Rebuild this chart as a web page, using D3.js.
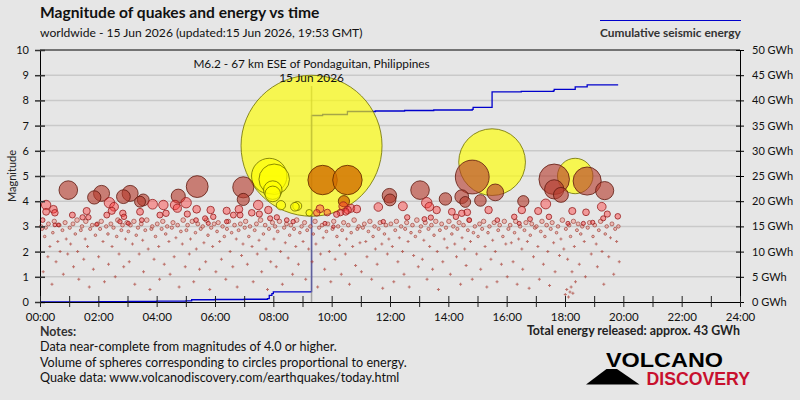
<!DOCTYPE html>
<html><head><meta charset="utf-8">
<script src="https://cdn.jsdelivr.net/npm/d3@7"></script>
<style>
body{margin:0;background:#e6e6e6;}
svg{display:block;font-family:Lato,"Open Sans",sans-serif;}
</style>
</head><body>
<svg id="chart" width="800" height="400"></svg>
<script>
// ---------- DATA ----------
const hourTicks = [0,1,2,3,4,5,6,7,8,9,10,11,12,13,14,15,16,17,18,19,20,21,22,23,24];
const hourLabels = ["00:00","02:00","04:00","06:00","08:00","10:00","12:00","14:00","16:00","18:00","20:00","22:00","24:00"];
const magTicks = [0,1,2,3,4,5,6,7,8,9,10];
const energyTicks = [0,5,10,15,20,25,30,35,40,45,50];
const energyLabels = ["0 GWh","5 GWh","10 GWh","15 GWh","20 GWh","25 GWh","30 GWh","35 GWh","40 GWh","45 GWh","50 GWh"];

// cumulative energy [hour, GWh]
const energySteps = [[0,0],[1,0.03],[2,0.07],[3,0.12],[4,0.18],[5,0.22],[5.2,0.45],[6,0.5],[7,0.55],[7.8,0.65],[7.86,1.3],[7.95,1.65],[8.0,2.0],[9.3,2.05],[9.31,37.0],[9.69,37.2],[10.54,37.8],[11.5,37.9],[12.5,38.0],[13.5,38.1],[14.82,38.2],[14.85,38.6],[15.5,41.7],[16.5,41.8],[17.6,41.9],[17.63,42.2],[18.35,42.7],[18.76,43.1],[19.8,43.2]];

// quakes [hour, magnitude]
const yellowQuakes = [[9.31,6.2],[15.5,5.55],[18.35,5.0],[7.86,5.0],[8.03,4.87],[7.98,4.44],[7.98,4.29],[8.26,3.84],[8.74,3.78],[8.82,3.81],[9.23,3.54]];
const orangeQuakes = [[9.69,4.84],[10.54,4.84],[10.42,4.0]];
const brownQuakes = [[0.97,4.44],[1.86,4.15],[2.11,4.31],[2.86,4.18],[3.09,4.31],[3.54,4.05],[3.43,3.98],[4.74,4.2],[5.39,4.58],[6.97,4.55],[6.97,4.07],[11.98,4.22],[12.0,4.05],[13.03,4.44],[13.9,4.09],[14.46,4.18],[14.58,3.97],[14.82,4.96],[15.1,4.03],[15.61,4.35],[16.57,4.0],[17.63,4.87],[17.63,4.47],[17.86,4.25],[18.76,4.8],[19.36,4.42]];
const redQuakes = [[0.21,3.85],[0.21,3.58],[0.46,3.68],[0.51,3.54],[0.09,3.25],[0.63,3.06],[0.51,3.06],[1.11,3.45],[1.6,3.61],[1.46,3.36],[1.66,3.36],[1.94,3.08],[2.29,3.45],[2.38,3.94],[2.46,3.62],[2.54,3.78],[2.84,3.52],[2.88,3.38],[2.74,3.19],[3.03,3.12],[3.43,3.58],[3.49,3.25],[3.86,3.88],[4.23,3.85],[4.32,3.52],[4.11,3.45],[4.63,3.85],[4.71,3.72],[5.01,3.94],[5.05,3.49],[5.37,3.68],[5.35,3.25],[5.66,3.32],[5.85,3.65],[5.94,3.38],[5.77,3.12],[6.4,3.62],[6.63,3.45],[6.82,3.68],[6.86,3.45],[6.4,3.19],[7.26,3.54],[7.48,3.85],[7.52,3.49],[7.83,3.65],[8.12,3.36],[7.89,3.32],[8.46,3.25],[8.68,3.19],[9.49,3.54],[9.6,3.7],[9.85,3.55],[9.77,3.12],[10.06,2.99],[10.17,3.48],[10.3,3.55],[10.4,3.8],[10.55,3.65],[10.48,3.58],[10.65,3.72],[10.86,3.69],[11.6,3.77],[11.77,3.19],[12.44,3.8],[12.59,3.36],[13.26,3.94],[13.35,3.78],[13.6,3.65],[13.18,3.29],[13.4,3.35],[14.12,3.58],[14.26,3.38],[14.46,3.52],[14.65,3.56],[14.72,3.25],[15.38,3.65],[15.68,3.25],[16.26,3.38],[16.43,3.12],[16.52,3.65],[16.8,3.29],[17.08,3.61],[17.34,3.89],[17.45,3.38],[18.25,3.61],[18.72,3.56],[19.26,3.78],[19.45,3.49],[19.31,3.32],[19.81,3.4],[18.1,3.12],[18.63,3.12],[18.95,3.16]];
const smallQuakes = [
[0.04,3.0],[0.07,2.9],[0.11,1.2],[0.16,2.6],[0.2,2.95],[0.27,1.8],[0.29,3.1],[0.34,2.2],[0.41,0.7],[0.44,2.75],[0.49,3.2],[0.55,1.6],[0.61,2.4],[0.66,3.05],[0.69,2.0],[0.77,2.85],[0.8,1.1],[0.86,3.15],[0.9,2.5],[0.95,1.9],
[1.02,2.95],[1.05,2.3],[1.13,3.1],[1.15,1.4],[1.21,2.7],[1.27,3.25],[1.29,2.0],[1.33,0.9],[1.4,2.85],[1.44,3.0],[1.5,1.7],[1.55,2.5],[1.57,3.2],[1.63,2.2],[1.69,0.6],[1.72,2.9],[1.79,3.05],[1.83,1.3],[1.9,2.65],[1.97,3.1],
[2.01,1.8],[2.06,2.9],[2.1,3.2],[2.16,2.4],[2.21,0.8],[2.27,3.0],[2.33,2.7],[2.35,1.5],[2.43,3.1],[2.47,2.2],[2.52,2.95],[2.58,1.0],[2.63,2.6],[2.67,3.25],[2.71,1.9],[2.79,2.85],[2.83,3.05],[2.87,1.4],[2.93,2.5],[2.98,3.15],
[3.03,2.8],[3.06,1.6],[3.1,3.05],[3.17,2.3],[3.22,3.2],[3.25,0.7],[3.3,2.65],[3.36,2.95],[3.4,1.9],[3.47,3.1],[3.52,2.45],[3.55,1.2],[3.61,2.85],[3.66,3.25],[3.71,2.1],[3.77,0.5],[3.82,2.9],[3.85,3.0],[3.91,1.7],[3.96,2.6],
[4.02,3.1],[4.07,2.2],[4.1,0.9],[4.17,2.9],[4.21,3.2],[4.26,1.5],[4.31,2.7],[4.36,3.0],[4.42,2.4],[4.46,1.1],[4.52,2.95],[4.56,3.15],[4.6,1.8],[4.66,2.55],[4.72,3.05],[4.77,0.6],[4.83,2.8],[4.88,2.3],[4.91,3.25],[4.98,1.4],
[5.02,2.85],[5.06,3.05],[5.12,1.9],[5.16,2.5],[5.22,3.2],[5.27,0.8],[5.33,2.75],[5.36,2.1],[5.41,3.1],[5.47,1.3],[5.51,2.9],[5.58,3.0],[5.62,2.35],[5.68,1.6],[5.71,3.25],[5.76,2.65],[5.82,0.5],[5.87,2.95],[5.92,2.2],[5.97,3.1],
[6.03,1.2],[6.07,2.8],[6.11,3.15],[6.16,2.4],[6.22,1.7],[6.26,3.0],[6.32,2.6],[6.37,0.9],[6.41,2.9],[6.46,3.2],[6.52,2.0],[6.57,2.75],[6.61,1.4],[6.67,3.05],[6.73,2.5],[6.76,0.6],[6.81,2.85],[6.87,3.1],[6.91,1.85],[6.96,2.3],
[7.02,2.95],[7.05,3.2],[7.11,1.5],[7.16,2.6],[7.2,3.0],[7.27,2.2],[7.31,0.8],[7.36,2.85],[7.42,3.1],[7.45,1.9],[7.51,2.45],[7.56,3.25],[7.6,1.2],[7.66,2.7],[7.72,3.05],[7.75,2.1],[7.8,0.5],[7.85,2.9],[7.91,1.6],[7.97,3.15],
[8.02,2.5],[8.06,3.0],[8.1,1.4],[8.15,2.8],[8.21,3.2],[8.25,2.0],[8.31,0.7],[8.37,2.95],[8.41,2.35],[8.45,3.1],[8.51,1.75],[8.56,2.65],[8.6,3.05],[8.66,1.1],[8.71,2.9],[8.77,2.2],[8.8,3.25],[8.86,1.5],[8.91,2.75],[8.97,3.0],
[9.02,2.4],[9.07,3.15],[9.11,0.9],[9.16,2.85],[9.21,2.1],[9.27,3.0],[9.33,1.6],[9.37,2.7],[9.43,3.2],[9.46,2.3],[9.52,0.6],[9.57,2.95],[9.62,1.9],[9.67,3.05],[9.71,2.55],[9.76,1.3],[9.82,2.8],[9.87,3.1],[9.92,2.0],[9.97,0.8],
[10.03,2.9],[10.07,3.2],[10.12,1.7],[10.18,2.6],[10.22,3.0],[10.27,2.25],[10.33,1.1],[10.36,2.85],[10.41,3.15],[10.47,1.9],[10.51,2.5],[10.57,3.05],[10.61,0.7],[10.67,2.75],[10.72,2.2],[10.77,3.25],[10.82,1.45],[10.88,2.9],[10.93,3.0],[10.97,2.35],
[11.02,1.2],[11.07,2.95],[11.12,3.1],[11.17,2.4],[11.21,1.8],[11.26,2.8],[11.31,3.2],[11.37,0.9],[11.42,2.6],[11.47,3.0],[11.5,2.1],[11.56,1.5],[11.61,2.9],[11.66,3.15],[11.72,2.3],[11.75,0.55],[11.81,2.7],[11.86,3.05],[11.91,1.9],[11.96,2.5],
[12.03,3.1],[12.08,2.2],[12.13,0.8],[12.18,2.85],[12.22,3.2],[12.27,1.6],[12.32,2.55],[12.38,3.0],[12.43,2.0],[12.48,1.1],[12.52,2.9],[12.57,3.15],[12.62,2.4],[12.66,0.6],[12.72,2.75],[12.77,3.05],[12.81,1.85],[12.87,2.6],[12.92,3.25],[12.97,1.4],
[13.02,2.8],[13.06,3.0],[13.11,1.7],[13.16,2.45],[13.21,3.15],[13.27,0.9],[13.32,2.9],[13.36,2.2],[13.42,3.05],[13.46,1.3],[13.51,2.65],[13.57,3.2],[13.62,2.0],[13.66,0.5],[13.71,2.85],[13.77,3.1],[13.81,1.6],[13.86,2.5],[13.92,2.95],[13.96,2.15],
[14.02,3.2],[14.07,1.1],[14.12,2.7],[14.17,3.0],[14.22,2.3],[14.28,1.8],[14.31,2.9],[14.37,3.15],[14.42,0.7],[14.47,2.55],[14.52,3.05],[14.56,2.1],[14.61,1.45],[14.67,2.85],[14.71,3.25],[14.76,2.4],[14.82,0.9],[14.86,2.75],[14.91,3.0],[14.97,1.9],
[15.02,2.6],[15.07,3.1],[15.11,1.3],[15.16,2.9],[15.21,3.2],[15.26,2.2],[15.32,0.6],[15.36,2.75],[15.41,3.0],[15.46,1.7],[15.52,2.45],[15.57,3.15],[15.61,2.0],[15.67,0.8],[15.71,2.85],[15.76,3.05],[15.82,1.5],[15.87,2.6],[15.92,3.2],[15.97,2.3],
[16.02,1.0],[16.06,2.9],[16.12,3.05],[16.16,2.35],[16.22,1.6],[16.27,2.75],[16.31,3.2],[16.36,0.7],[16.41,2.5],[16.46,3.0],[16.52,2.1],[16.55,1.3],[16.61,2.85],[16.66,3.15],[16.71,2.4],[16.77,0.55],[16.81,2.65],[16.86,3.1],[16.92,1.8],[16.97,2.95],
[17.02,3.0],[17.07,2.2],[17.12,0.9],[17.17,2.8],[17.21,3.2],[17.26,1.5],[17.31,2.6],[17.37,3.05],[17.41,2.0],[17.47,0.65],[17.51,2.9],[17.56,3.15],[17.61,2.35],[17.66,1.2],[17.71,2.75],[17.76,3.0],[17.81,1.85],[17.86,2.5],[17.91,3.25],[17.96,2.1],
[18.01,0.3],[18.03,2.9],[18.06,0.5],[18.09,1.7],[18.12,0.2],[18.14,3.05],[18.17,0.4],[18.19,2.6],[18.21,0.6],[18.24,1.2],[18.27,0.35],[18.29,3.2],[18.32,2.2],[18.36,0.8],[18.41,2.85],[18.45,3.1],[18.49,1.5],[18.54,2.7],[18.59,3.0],[18.66,2.4],[18.7,1.0],[18.78,2.95],[18.84,3.15],[18.9,1.9],[18.96,2.6],
[19.02,3.05],[19.07,2.3],[19.11,1.4],[19.16,2.85],[19.22,3.2],[19.27,2.0],[19.33,0.7],[19.38,2.7],[19.43,3.0],[19.5,1.8],[19.56,2.55],[19.61,3.1],[19.67,1.1],[19.72,2.9],[19.77,2.4],[19.83,3.0],[19.86,1.6]
];
const annotationLines = ["M6.2 - 67 km ESE of Pondaguitan, Philippines","15 Jun 2026"];
const annotationHour = 9.31;
const titleText = "Magnitude of quakes and energy vs time";
const subtitleText = "worldwide - 15 Jun 2026 (updated:15 Jun 2026, 19:53 GMT)";
const legendText = "Cumulative seismic energy";
const notesLines = ["Data near-complete from magnitudes of 4.0 or higher.","Volume of spheres corresponding to circles proportional to energy.","Quake data: www.volcanodiscovery.com/earthquakes/today.html"];
const totalText = "Total energy released: approx. 43 GWh";

// ---------- DRAW ----------
const svg = d3.select("#chart");
const L = 40, R = 740, T = 50, B = 302;
const x = d3.scaleLinear().domain([0,24]).range([L,R]);
const y = d3.scaleLinear().domain([0,10]).range([B,T]);
const yE = d3.scaleLinear().domain([0,50]).range([B,T]);
// sphere volume ~ energy  => radius ~ 10^(0.5 M)
const rad = m => 70.5 * Math.pow(10, 0.5*(m-6.2));

svg.append("rect").attr("width",800).attr("height",400).attr("fill","#e6e6e6");

// grid
svg.append("g").selectAll("line").data(magTicks.filter(d=>d>0 && d<10)).join("line")
  .attr("x1",L).attr("x2",R).attr("y1",d=>y(d)).attr("y2",d=>y(d))
  .attr("stroke","#c9c9c9").attr("stroke-width",1.5);

// energy line
svg.append("path").datum(energySteps)
  .attr("d", d3.line().x(d=>x(d[0])).y(d=>yE(d[1])).curve(d3.curveStepAfter))
  .attr("fill","none").attr("stroke","#0000cc").attr("stroke-width",1.3);

// annotation vertical line
svg.append("line").attr("x1",x(annotationHour)).attr("x2",x(annotationHour))
  .attr("y1",86).attr("y2",B).attr("stroke","#888").attr("stroke-opacity",0.7).attr("stroke-width",1.5);

// small quakes
const gs = svg.append("g");
gs.selectAll("path.tiny").data(smallQuakes.filter(d=>d[1]<2.6)).join("path")
  .attr("class","tiny")
  .attr("transform",d=>`translate(${x(d[0])},${y(d[1])})`)
  .attr("d", d3.symbol(d3.symbolCross, 5)())
  .attr("fill","rgba(170,60,50,0.7)");
gs.selectAll("circle").data(smallQuakes.filter(d=>d[1]>=2.6)).join("circle")
  .attr("cx",d=>x(d[0])).attr("cy",d=>y(d[1])).attr("r",d=>Math.max(1.3,rad(d[1])))
  .attr("fill","rgba(240,140,130,0.5)").attr("stroke","rgba(150,50,40,0.75)").attr("stroke-width",0.8);

// big quakes, largest drawn first
const styles = {
  y:{fill:"rgba(255,255,0,0.65)", stroke:"rgba(110,110,0,0.8)"},
  o:{fill:"rgba(210,110,0,0.8)", stroke:"rgba(100,45,0,0.85)"},
  b:{fill:"rgba(180,60,45,0.62)", stroke:"rgba(95,25,15,0.8)"},
  r:{fill:"rgba(255,60,60,0.45)", stroke:"rgba(150,30,30,0.8)"}
};
const big = [].concat(
  yellowQuakes.map(d=>({h:d[0],m:d[1],c:"y"})),
  orangeQuakes.map(d=>({h:d[0],m:d[1],c:"o"})),
  brownQuakes.map(d=>({h:d[0],m:d[1],c:"b"})),
  redQuakes.map(d=>({h:d[0],m:d[1],c:"r"}))
).sort((a,b)=>b.m-a.m);
svg.append("g").selectAll("circle").data(big).join("circle")
  .attr("cx",d=>x(d.h)).attr("cy",d=>y(d.m)).attr("r",d=>rad(d.m))
  .attr("fill",d=>styles[d.c].fill).attr("stroke",d=>styles[d.c].stroke).attr("stroke-width",1);

// frame top
svg.append("line").attr("x1",L).attr("x2",R).attr("y1",T).attr("y2",T).attr("stroke","#000");

// left axis
const ax = svg.append("g").attr("transform",`translate(${L},0)`)
  .call(d3.axisLeft(y).tickValues(magTicks).tickSize(5).tickPadding(6).tickFormat(d3.format("d")));
ax.select(".domain").attr("stroke","#000");
ax.selectAll(".tick line").attr("x1",-5).attr("x2",5).attr("stroke","#333").attr("stroke-width",1.5);
ax.selectAll(".tick text").attr("font-size",11).attr("fill","#111").attr("font-family","Lato");

// right axis
const axr = svg.append("g").attr("transform",`translate(${R},0)`)
  .call(d3.axisRight(yE).tickValues(energyTicks).tickSize(4).tickPadding(8).tickFormat((d,i)=>energyLabels[i]));
axr.select(".domain").attr("stroke","#000");
axr.selectAll(".tick line").attr("x1",-4).attr("x2",4).attr("stroke","#000");
axr.selectAll(".tick text").attr("font-size",11).attr("fill","#111").attr("font-family","Lato");

// bottom axis
const axb = svg.append("g").attr("transform",`translate(0,${B})`)
  .call(d3.axisBottom(x).tickValues(hourTicks).tickSize(5).tickPadding(6).tickFormat(d=> d%2===0 ? hourLabels[d/2] : ""));
axb.select(".domain").attr("stroke","#000");
axb.selectAll(".tick line").attr("y1",-6).attr("y2",5).attr("stroke","#222");
axb.selectAll(".tick text").attr("font-size",11.5).attr("fill","#111").attr("font-family","Lato");

// y title
svg.append("text").attr("transform","translate(16,176) rotate(-90)").attr("text-anchor","middle")
  .attr("font-size",11).attr("fill","#222").text("Magnitude");

// annotation text
svg.append("g").selectAll("text").data(annotationLines).join("text")
  .attr("x",x(annotationHour)).attr("y",(d,i)=>67.5+i*14).attr("text-anchor","middle")
  .attr("font-size",11.8).attr("fill","#111").text(d=>d);

// titles
svg.append("text").attr("x",40).attr("y",18).attr("font-size",15.6).attr("font-weight","bold").attr("fill","#111").text(titleText);
svg.append("text").attr("x",40).attr("y",37).attr("font-size",12.1).attr("fill","#111").text(subtitleText);

// legend
svg.append("line").attr("x1",600).attr("x2",741).attr("y1",20.5).attr("y2",20.5).attr("stroke","#0000cc").attr("stroke-width",1.2);
svg.append("text").attr("x",600).attr("y",37).attr("font-size",11.9).attr("font-weight","bold").attr("fill","#333").text(legendText);

// notes
svg.append("text").attr("x",40).attr("y",336).attr("font-size",12.4).attr("font-weight","bold").attr("fill","#333").text("Notes:");
svg.append("g").selectAll("text").data(notesLines).join("text")
  .attr("x",40).attr("y",(d,i)=>351+i*15.5).attr("font-size",12.6).attr("fill","#111").text(d=>d);
svg.append("text").attr("x",740).attr("y",335).attr("text-anchor","end").attr("font-size",12.4).attr("font-weight","bold").attr("fill","#222").text(totalText);

// logo
const logo = svg.append("g");
logo.append("path").attr("d","M586,384.5 L606.5,369 L617,369 L639.5,384.5 Z").attr("fill","#000");
logo.append("text").attr("x",606).attr("y",366.5).attr("font-family","Liberation Sans, Arial, sans-serif").attr("font-weight","bold")
  .attr("font-size",20).attr("textLength",117).attr("lengthAdjust","spacingAndGlyphs").attr("fill","#000").text("VOLCANO");
logo.append("text").attr("x",646.5).attr("y",384.5).attr("font-family","Liberation Sans, Arial, sans-serif").attr("font-weight","bold")
  .attr("font-size",19).attr("textLength",103.5).attr("lengthAdjust","spacingAndGlyphs").attr("fill","#c8102e").text("DISCOVERY");
</script>
</body></html>
